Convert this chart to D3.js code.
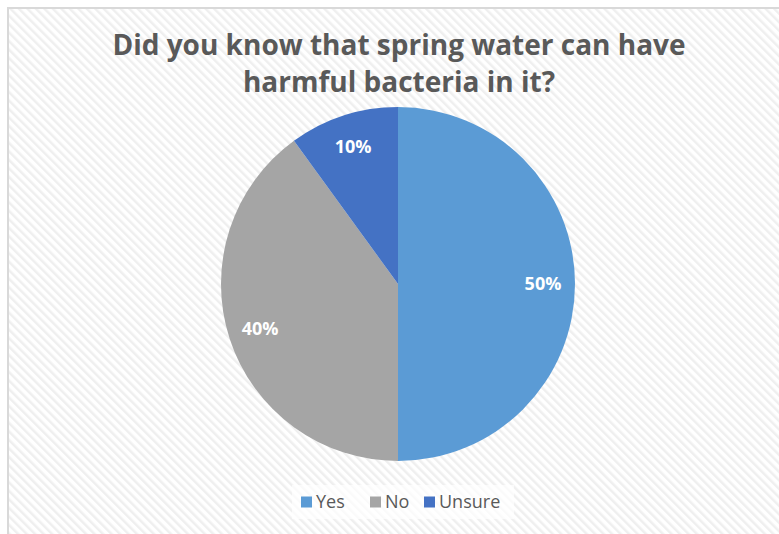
<!DOCTYPE html>
<html>
<head>
<meta charset="utf-8">
<script src="https://cdn.jsdelivr.net/npm/d3@7"></script>
<style>
  html, body { margin: 0; padding: 0; background: #ffffff; }
  svg { display: block; }
</style>
</head>
<body>
<svg id="chart" width="779" height="534"></svg>
<script>
// Survey answers and their shares
const categories = ["Yes", "No", "Unsure"];
const shares = [50, 40, 10];
const sliceColors = ["#5b9bd5", "#a5a5a5", "#4472c4"];
const titleLines = ["Did you know that spring water can have", "harmful bacteria in it?"];

const width = 779, height = 534;
const svg = d3.select("#chart");
const font = "'Open Sans', 'Noto Sans', sans-serif";

// Diagonal hatch for the chart area background
const defs = svg.append("defs");
const pat = defs.append("pattern")
  .attr("id", "hatch")
  .attr("patternUnits", "userSpaceOnUse")
  .attr("width", 6).attr("height", 6)
  .attr("patternTransform", "rotate(-45)");
pat.append("rect").attr("width", 6).attr("height", 6).attr("fill", "#ffffff");
pat.append("rect").attr("x", 0).attr("width", 2.5).attr("height", 6).attr("fill", "#efefef");

svg.append("rect").attr("width", width).attr("height", height).attr("fill", "#ffffff");
svg.append("rect")
  .attr("x", 8).attr("y", 8)
  .attr("width", width).attr("height", height)
  .attr("fill", "url(#hatch)")
  .attr("stroke", "#d9d9d9").attr("stroke-width", 2);

// Title
const title = svg.append("text")
  .attr("text-anchor", "middle")
  .attr("font-family", font)
  .attr("font-weight", "bold")
  .attr("font-size", 28)
  .attr("fill", "#595959");
titleLines.forEach((t, i) => {
  title.append("tspan").attr("x", 399).attr("y", 55 + i * 37).text(t);
});

// Pie
const cx = 398, cy = 284, r = 177;
const color = d3.scaleOrdinal().domain(categories).range(sliceColors);
const data = categories.map((c, i) => ({ name: c, value: shares[i] }));
const pie = d3.pie().value(d => d.value).sort(null);
const arcs = pie(data);
const arc = d3.arc().innerRadius(0).outerRadius(r);
const labelArc = d3.arc().innerRadius(145).outerRadius(145);

const g = svg.append("g").attr("transform", `translate(${cx},${cy})`);
g.selectAll("path.slice")
  .data(arcs)
  .join("path")
  .attr("class", "slice")
  .attr("d", arc)
  .attr("fill", d => color(d.data.name));

g.selectAll("text.lbl")
  .data(arcs)
  .join("text")
  .attr("class", "lbl")
  .attr("transform", d => `translate(${labelArc.centroid(d)})`)
  .attr("text-anchor", "middle")
  .attr("dy", "0.36em")
  .attr("font-family", font)
  .attr("font-weight", "bold")
  .attr("font-size", 18)
  .attr("fill", "#ffffff")
  .text(d => d.data.value + "%");

// Legend backdrop and entries
svg.append("rect")
  .attr("x", 292).attr("y", 485).attr("width", 222).attr("height", 34)
  .attr("fill", "#ffffff").attr("opacity", 0.7);
const legend = svg.append("g").attr("transform", "translate(0,502)");
const legendX = [301, 370, 424];
const items = legend.selectAll("g.item")
  .data(categories)
  .join("g")
  .attr("class", "item")
  .attr("transform", (d, i) => `translate(${legendX[i]},0)`);
items.append("rect")
  .attr("x", 0).attr("y", -5.5).attr("width", 11).attr("height", 11)
  .attr("fill", d => color(d));
items.append("text")
  .attr("x", 15).attr("y", 0).attr("dy", "0.35em")
  .attr("font-family", font)
  .attr("font-size", 18)
  .attr("fill", "#595959")
  .text(d => d);
</script>
</body>
</html>
